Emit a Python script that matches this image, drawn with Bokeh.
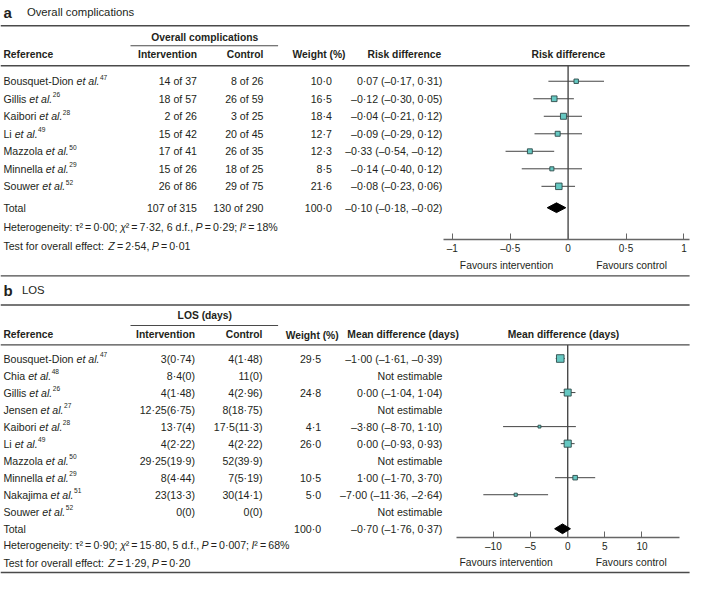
import math
from bokeh.plotting import figure
from bokeh.models import Range1d, LinearAxis, FixedTicker, CustomJSTickFormatter, ColumnDataSource
from bokeh.core.properties import value
from bokeh.embed import file_html
from bokeh.resources import INLINE

# ---------------- data: panel a (overall complications) ----------------
a_study = ["Bousquet-Dion", "Gillis", "Kaibori", "Li", "Mazzola", "Minnella", "Souwer"]
a_cite = ["47", "26", "28", "49", "50", "29", "52"]
a_int_events = [14, 18, 2, 15, 17, 15, 26]
a_int_total = [37, 57, 26, 42, 41, 26, 86]
a_ctl_events = [8, 26, 3, 20, 26, 18, 29]
a_ctl_total = [26, 59, 25, 45, 35, 25, 75]
a_weight = [10.0, 16.5, 18.4, 12.7, 12.3, 8.5, 21.6]
a_rd = [0.07, -0.12, -0.04, -0.09, -0.33, -0.14, -0.08]
a_rd_lo = [-0.17, -0.30, -0.21, -0.29, -0.54, -0.40, -0.23]
a_rd_hi = [0.31, 0.05, 0.12, 0.12, -0.12, 0.12, 0.06]
a_total_int = [107, 315]
a_total_ctl = [130, 290]
a_total_weight = 100.0
a_total_rd = [-0.10, -0.18, -0.02]
a_het = ["0·00", "7·32", "6", "0·29", "18"]      # tau2, chi2, df, P, I2
a_test = ["2·54", "0·01"]                          # Z, P
a_ticks = [-1, -0.5, 0, 0.5, 1]

# ---------------- data: panel b (LOS) ----------------
b_study = ["Bousquet-Dion", "Chia", "Gillis", "Jensen", "Kaibori", "Li", "Mazzola",
           "Minnella", "Nakajima", "Souwer"]
b_cite = ["47", "48", "26", "27", "28", "49", "50", "29", "51", "52"]
b_int_mean = [3, 8.4, 4, 12.25, 13.7, 4, 29.25, 8, 23, 0]
b_int_sd = [0.74, 0, 1.48, 6.75, 4, 2.22, 19.9, 4.44, 13.3, 0]
b_ctl_mean = [4, 11, 4, 8, 17.5, 4, 52, 7, 30, 0]
b_ctl_sd = [1.48, 0, 2.96, 18.75, 11.3, 2.22, 39.9, 5.19, 14.1, 0]
b_weight = [29.5, None, 24.8, None, 4.1, 26.0, None, 10.5, 5.0, None]
b_md = [-1.00, None, 0.00, None, -3.80, 0.00, None, 1.00, -7.00, None]
b_md_lo = [-1.61, None, -1.04, None, -8.70, -0.93, None, -1.70, -11.36, None]
b_md_hi = [-0.39, None, 1.04, None, 1.10, 0.93, None, 3.70, -2.64, None]
b_total_weight = 100.0
b_total_md = [-0.70, -1.76, 0.37]
b_het = ["0·90", "15·80", "5", "0·007", "68"]
b_test = ["1·29", "0·20"]
b_ticks = [-10, -5, 0, 5, 10]

# ---------------- styling / layout ----------------
FONT = "Liberation Sans"
TXT = "#231f20"
RULE = "#4a4a4a"
BOX_FILL = "#66c8c2"
BOX_LINE = "#2c4a48"
PW, PH = 693, 574
RX, RY = 709, 590
SX, SY = PW / RX, PH / RY
BODY = 10.6
HEAD = 10.3

WID = {' ': 278, '%': 889, '(': 333, ')': 333, ',': 278, '-': 333, '.': 278, ':': 278, ';': 278,
       '=': 584, '·': 278, '–': 556, '²': 333, 'τ': 430, 'χ': 500, '\u2009': 200}
for ch in "0123456789":
    WID[ch] = 556
WID.update(dict(zip("ABCDEFGHIJKLMNOPQRSTUVWXYZ",
                    [667, 667, 722, 722, 667, 611, 778, 722, 278, 500, 667, 556, 833, 722, 778, 667,
                     778, 722, 667, 611, 722, 667, 944, 667, 667, 611])))
WID.update(dict(zip("abcdefghijklmnopqrstuvwxyz",
                    [556, 556, 500, 556, 556, 278, 556, 556, 222, 222, 500, 222, 833, 556, 556, 556,
                     556, 333, 500, 278, 556, 500, 722, 500, 500, 500])))


def tw(s, size):
    return sum(WID.get(c, 556) for c in s) / 1000.0 * size / SX


def dot(v, d):
    s = f"{abs(v):.{d}f}".replace(".", "·")
    return ("–" if v < 0 and round(abs(v), d) != 0 else "") + s


def num(v):
    return f"{v:g}".replace(".", "·")


groups = {}


def add_text(x, y, s, style="normal", size=BODY, align="left", color=TXT):
    key = (style, size, align, color)
    g = groups.setdefault(key, {"x": [], "y": [], "text": []})
    g["x"].append(x)
    g["y"].append(y)
    g["text"].append(s)


def rich(x, y, segs, size=BODY):
    for s, st in segs:
        if st == "sup":
            ss = round(size * 0.62, 1)
            add_text(x + 0.5, y - size * 0.4 / SY, s, "normal", ss)
            x += tw(s, ss) + 0.5
        else:
            add_text(x, y, s, st, size)
            x += tw(s, size)


TS = "\u2009=\u2009"

p = figure(width=PW, height=PH, x_range=Range1d(0, RX), y_range=Range1d(RY, 0),
           output_backend="svg", toolbar_location=None, min_border=0,
           x_axis_location=None, y_axis_location=None, outline_line_color=None)
p.xgrid.visible = False
p.ygrid.visible = False
p.background_fill_color = "white"

tick_fmt = CustomJSTickFormatter(code=(
    "const a = Math.abs(tick);"
    "const s = Number.isInteger(a) ? a.toFixed(0) : a.toFixed(1).replace('.', '\u00b7');"
    "return (tick < 0 ? '\u2013' : '') + s;"))


def rules(ys, x0=0, x1=705, w=1.4):
    p.segment(x0=[x0] * len(ys), x1=[x1] * len(ys), y0=ys, y1=ys, line_color=RULE, line_width=w)


def draw_panel(L, title_letter, title, group_head, col_head, fhead, rows, weights, eff_txt,
               est, lo, hi, tot_cells, tot_est, het, test, ticks, rng):
    zero, k = L["zero"], L["k"]
    p.extra_x_ranges[rng] = Range1d((0 - zero) / k, (RX - zero) / k)
    # titles
    add_text(3, L["title"], title_letter, "bold", 15)
    add_text(L["title_x"], L["title"], title, "normal", 11.3)
    rules([L["rule_top"], L["rule_head"], L["rule_bot"]])
    rules([L["grule"]], 133, 284, 1.1)
    add_text(209, L["group"], group_head, "bold", HEAD, "center")
    add_text(3, L["head"], "Reference", "bold", HEAD)
    add_text(L["c_int"], L["head"], "Intervention", "bold", HEAD, "right")
    add_text(L["c_ctl"], L["head"], "Control", "bold", HEAD, "right")
    add_text(L["h_w"], L["head"] + L["wdy"], "Weight (%)", "bold", HEAD, "right")
    add_text(L["h_e"], L["head"], col_head, "bold", HEAD, "right")
    add_text(L["fh_x"], L["head"], fhead, "bold", HEAD, "center")
    ys = [L["row0"] + i * L["step"] for i in range(len(rows))]
    for i, (name, cite, ci, cc) in enumerate(rows):
        y = ys[i]
        rich(3, y, [(name + " ", "normal"), ("et al.", "italic"), (cite, "sup")])
        add_text(L["c_int"], y, ci, align="right")
        add_text(L["c_ctl"], y, cc, align="right")
        if weights[i] is not None:
            add_text(L["c_w"], y, dot(weights[i], 1), align="right")
        add_text(452, y, eff_txt[i], align="right")
    # total
    ty = L["total"]
    add_text(3, ty, "Total")
    if tot_cells[0]:
        add_text(L["c_int"], ty, tot_cells[0], align="right")
        add_text(L["c_ctl"], ty, tot_cells[1], align="right")
    add_text(L["c_w"], ty, tot_cells[2], align="right")
    add_text(452, ty, f"{dot(tot_est[0], 2)} ({dot(tot_est[1], 2)}, {dot(tot_est[2], 2)})", align="right")
    rich(3, L["het"], [("Heterogeneity: τ²" + TS + het[0] + "; ", "normal"), ("χ", "italic"),
                       ("²" + TS + het[1] + ", " + het[2] + " d.f., ", "normal"), ("P", "italic"),
                       (TS + het[3] + "; ", "normal"), ("I", "italic"), ("²" + TS + het[4] + "%", "normal")])
    rich(3, L["test"], [("Test for overall effect: ", "normal"), ("Z", "italic"),
                        (TS + test[0] + ", ", "normal"), ("P", "italic"), (TS + test[1], "normal")])
    # forest
    p.segment(x0=[0], x1=[0], y0=[L["rule_head"]], y1=[L["axis"]], x_range_name=rng,
              line_color=RULE, line_width=1.4)
    idx = [i for i in range(len(rows)) if est[i] is not None]
    fy = [ys[i] for i in idx]
    p.segment(x0=[lo[i] for i in idx], x1=[hi[i] for i in idx], y0=fy, y1=fy, x_range_name=rng,
              line_color="#444444", line_width=1)
    p.scatter(x=[est[i] for i in idx], y=fy, size=[1.4 * math.sqrt(weights[i]) for i in idx],
              marker="square", fill_color=BOX_FILL, line_color=BOX_LINE, line_width=0.9,
              x_range_name=rng)
    h = 5
    p.patch(x=[tot_est[1], tot_est[0], tot_est[2], tot_est[0]], y=[ty, ty - h, ty, ty + h],
            x_range_name=rng, fill_color="black", line_color="black")
    ax = LinearAxis(x_range_name=rng, fixed_location=L["axis"], bounds=L["bounds"],
                    ticker=FixedTicker(ticks=ticks), formatter=tick_fmt,
                    major_tick_in=6, major_tick_out=0, minor_tick_in=0, minor_tick_out=0,
                    minor_tick_line_color=None, axis_line_color="#666666", axis_line_width=1.4,
                    major_tick_line_color="#666666", major_label_standoff=3,
                    major_label_text_font=FONT, major_label_text_font_size="10px",
                    major_label_text_color=TXT)
    p.add_layout(ax, "below")
    add_text(zero - 63, L["fav"], "Favours intervention", "normal", 10.3, "center")
    add_text(zero + 65, L["fav"], "Favours control", "normal", 10.3, "center")


LA = dict(title=12, title_x=27, rule_top=26, group=38, grule=46.5, head=56, wdy=0, rule_head=67,
          row0=83, step=18, total=213, het=233, test=252, axis=246, fav=272, rule_bot=283,
          c_int=201, c_ctl=269, c_w=339, h_w=353, h_e=451, fh_x=581,
          zero=580.7, k=118.5, bounds=(-1.08, 1.05))
LB = dict(title=298, title_x=22, rule_top=313, group=324, grule=334, head=343, wdy=1.5, rule_head=354,
          row0=368, step=17.5, total=543, het=560, test=578, axis=552, fav=578, rule_bot=588,
          c_int=199, c_ctl=268, c_w=328, h_w=346, h_e=469, fh_x=576,
          zero=580.3, k=7.6, bounds=(-15, 15))

a_rows = [(a_study[i], a_cite[i], f"{a_int_events[i]} of {a_int_total[i]}",
           f"{a_ctl_events[i]} of {a_ctl_total[i]}") for i in range(len(a_study))]
a_eff = [f"{dot(a_rd[i], 2)} ({dot(a_rd_lo[i], 2)}, {dot(a_rd_hi[i], 2)})" for i in range(len(a_study))]
draw_panel(LA, "a", "Overall complications", "Overall complications", "Risk difference",
           "Risk difference", a_rows, a_weight, a_eff, a_rd, a_rd_lo, a_rd_hi,
           [f"{a_total_int[0]} of {a_total_int[1]}", f"{a_total_ctl[0]} of {a_total_ctl[1]}",
            dot(a_total_weight, 1)], a_total_rd, a_het, a_test, a_ticks, "fa")

b_rows = [(b_study[i], b_cite[i], f"{num(b_int_mean[i])}({num(b_int_sd[i])})",
           f"{num(b_ctl_mean[i])}({num(b_ctl_sd[i])})") for i in range(len(b_study))]
b_eff = [("Not estimable" if b_md[i] is None else
          f"{dot(b_md[i], 2)} ({dot(b_md_lo[i], 2)}, {dot(b_md_hi[i], 2)})") for i in range(len(b_study))]
draw_panel(LB, "b", "LOS", "LOS (days)", "Mean difference (days)", "Mean difference (days)",
           b_rows, b_weight, b_eff, b_md, b_md_lo, b_md_hi,
           [None, None, dot(b_total_weight, 1)], b_total_md, b_het, b_test, b_ticks, "fb")

for (style, size, align, color), g in groups.items():
    p.text(x="x", y="y", text="text", source=ColumnDataSource(g), text_font=value(FONT),
           text_font_style=style, text_font_size=f"{size}px", text_align=align,
           text_baseline="middle", text_color=color)

with open("out.html", "w", encoding="utf-8") as f:
    f.write(file_html(p, INLINE))
